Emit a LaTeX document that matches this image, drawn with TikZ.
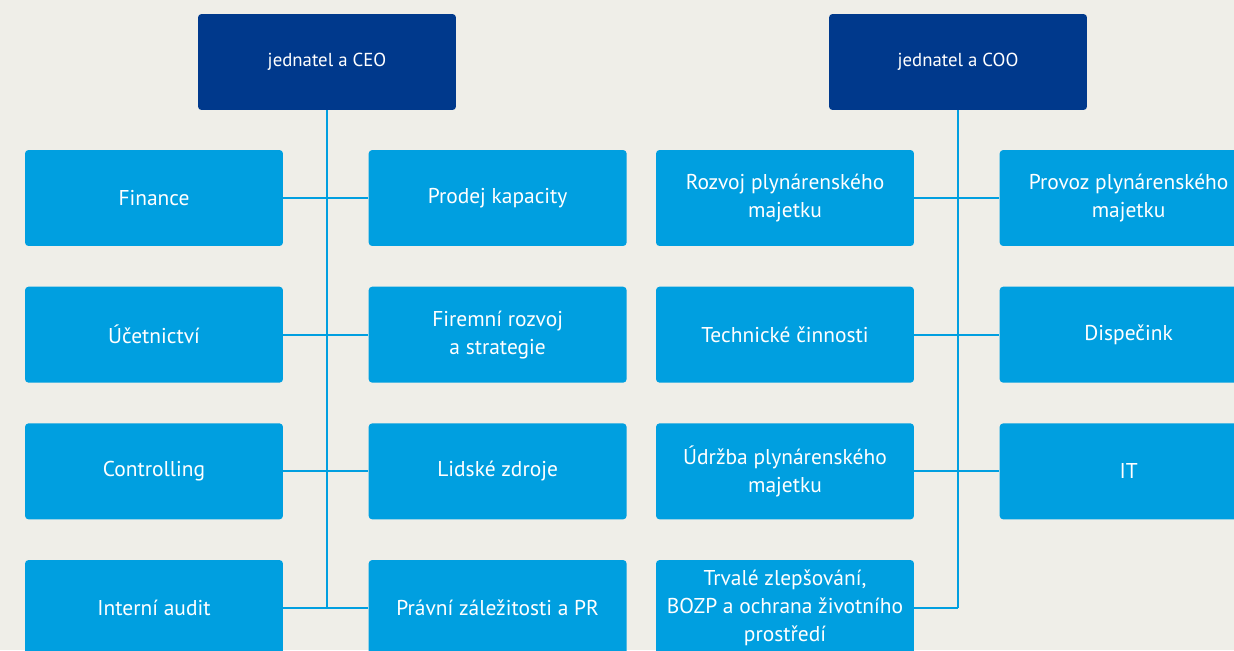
\documentclass[tikz,border=0pt]{standalone}
\usepackage{fontspec}
\setmainfont{PT Sans}
\usetikzlibrary{positioning}
\definecolor{bgcream}{RGB}{239,238,232}
\definecolor{headblue}{RGB}{0,57,140}
\definecolor{unitblue}{RGB}{0,159,224}

\begin{document}
\begin{tikzpicture}[
    x=0.02cm, y=-0.02cm, font=\fontsize{12.2}{15.9}\selectfont,
    node distance=0.8cm and 1.7cm,
    unit/.style={fill=unitblue, text=white, rounded corners=2pt, align=center,
                 minimum width=5.16cm, minimum height=1.92cm, inner sep=2pt},
    head/.style={unit, fill=headblue, font=\fontsize{10.7}{14}\selectfont},
    link/.style={draw=unitblue, line width=1.2pt},
  ]
  \clip (0,0) rectangle (1234,650);
  \fill[bgcream] (0,0) rectangle (1234,650);

  % CEO branch
  \node[head] (ceo) at (327,62) {jednatel a CEO};
  \node[unit] (fin) at (154,198) {Finance};
  \node[unit, below=of fin] (uce) {Účetnictví};
  \node[unit, below=of uce] (ctrl) {Controlling};
  \node[unit, below=of ctrl] (aud) {Interní audit};
  \node[unit, right=of fin] (prod) {Prodej kapacity};
  \node[unit, right=of uce] (strat) {Firemní rozvoj\\a strategie};
  \node[unit, right=of ctrl] (hr) {Lidské zdroje};
  \node[unit, right=of aud] (pr) {Právní záležitosti a PR};

  % COO branch
  \node[head] (coo) at (958,62) {jednatel a COO};
  \node[unit] (dev) at (785,198) {Rozvoj plynárenského\\majetku};
  \node[unit, below=of dev] (tech) {Technické činnosti};
  \node[unit, below=of tech] (mnt) {Údržba plynárenského\\majetku};
  \node[unit, below=of mnt] (impr) {Trvalé zlepšování,\\BOZP a ochrana životního\\prostředí};
  \node[unit, right=of dev] (ops) {Provoz plynárenského\\majetku};
  \node[unit, right=of tech] (disp) {Dispečink};
  \node[unit, right=of mnt] (it) {IT};

  % lines
  \draw[link] (ceo.south) -- (ceo |- aud.east);
  \draw[link] (fin) -- (prod);
  \draw[link] (uce) -- (strat);
  \draw[link] (ctrl) -- (hr);
  \draw[link] (aud) -- (pr);
  \draw[link] (coo.south) -- (coo |- impr.east);
  \draw[link] (dev) -- (ops);
  \draw[link] (tech) -- (disp);
  \draw[link] (mnt) -- (it);
  \draw[link] (impr) -- (coo |- impr.east);
\end{tikzpicture}
\end{document}
